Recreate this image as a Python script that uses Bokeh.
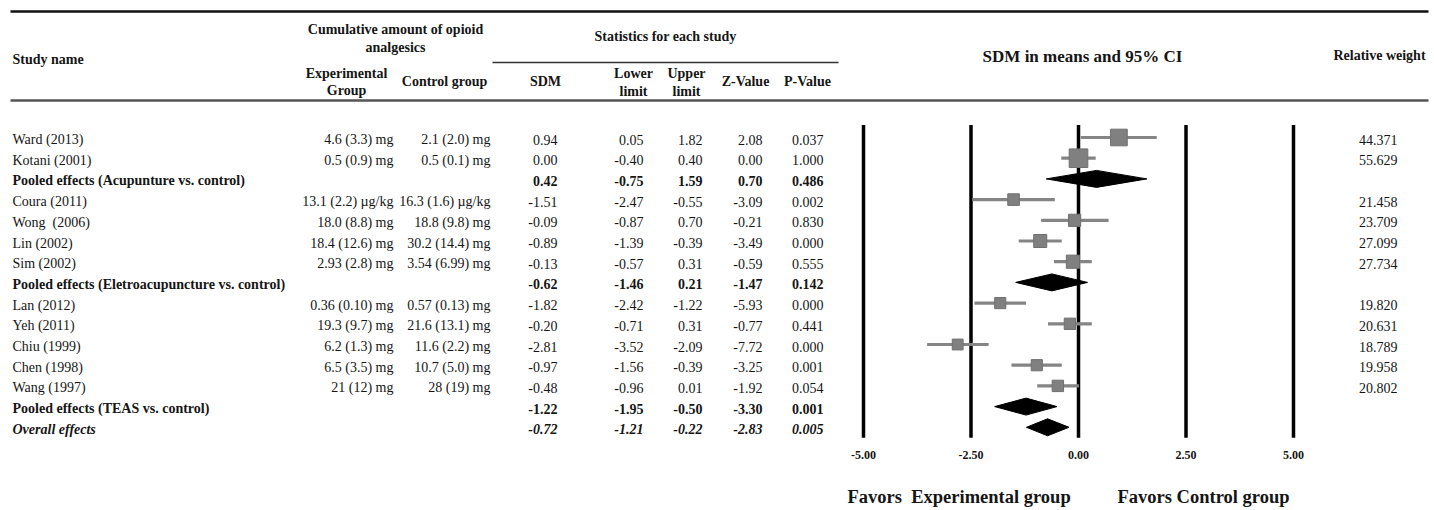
import math
from bokeh.plotting import figure
from bokeh.models import Range1d, ColumnDataSource
from bokeh.core.properties import value, field
from bokeh.embed import file_html
from bokeh.resources import INLINE

# ---------------- data ----------------
study_names = [
    "Ward (2013)", "Kotani (2001)", "Pooled effects (Acupunture vs. control)",
    "Coura (2011)", "Wong\u00a0 (2006)", "Lin (2002)", "Sim (2002)",
    "Pooled effects (Eletroacupuncture vs. control)",
    "Lan (2012)", "Yeh (2011)", "Chiu (1999)", "Chen (1998)", "Wang (1997)",
    "Pooled effects (TEAS vs. control)", "Overall effects",
]
row_kind = ["study", "study", "pooled",
            "study", "study", "study", "study", "pooled",
            "study", "study", "study", "study", "study", "pooled", "overall"]
exp_group = ["4.6 (3.3) mg", "0.5 (0.9) mg", "",
             "13.1 (2.2) \u00b5g/kg", "18.0 (8.8) mg", "18.4 (12.6) mg", "2.93 (2.8) mg", "",
             "0.36 (0.10) mg", "19.3 (9.7) mg", "6.2 (1.3) mg", "6.5 (3.5) mg", "21 (12) mg", "", ""]
ctrl_group = ["2.1 (2.0) mg", "0.5 (0.1) mg", "",
              "16.3 (1.6) \u00b5g/kg", "18.8 (9.8) mg", "30.2 (14.4) mg", "3.54 (6.99) mg", "",
              "0.57 (0.13) mg", "21.6 (13.1) mg", "11.6 (2.2) mg", "10.7 (5.0) mg", "28 (19) mg", "", ""]
sdm = [0.94, 0.00, 0.42, -1.51, -0.09, -0.89, -0.13, -0.62,
       -1.82, -0.20, -2.81, -0.97, -0.48, -1.22, -0.72]
lower = [0.05, -0.40, -0.75, -2.47, -0.87, -1.39, -0.57, -1.46,
         -2.42, -0.71, -3.52, -1.56, -0.96, -1.95, -1.21]
upper = [1.82, 0.40, 1.59, -0.55, 0.70, -0.39, 0.31, 0.21,
         -1.22, 0.31, -2.09, -0.39, 0.01, -0.50, -0.22]
z_value = [2.08, 0.00, 0.70, -3.09, -0.21, -3.49, -0.59, -1.47,
           -5.93, -0.77, -7.72, -3.25, -1.92, -3.30, -2.83]
p_value = [0.037, 1.000, 0.486, 0.002, 0.830, 0.000, 0.555, 0.142,
           0.000, 0.441, 0.000, 0.001, 0.054, 0.001, 0.005]
rel_weight = [44.371, 55.629, None, 21.458, 23.709, 27.099, 27.734, None,
              19.820, 20.631, 18.789, 19.958, 20.802, None, None]
tick_values = [-5.0, -2.5, 0.0, 2.5, 5.0]

# ---------------- layout ----------------
W, H = 1434, 510
FONT = value("Liberation Serif")
INK = "#151515"

p = figure(width=W, height=H, output_backend="svg", toolbar_location=None,
           x_range=Range1d(0, W), y_range=Range1d(H, 0), min_border=0,
           x_axis_type=None, y_axis_type=None)
p.grid.visible = False
p.outline_line_color = None
p.background_fill_color = "white"
p.border_fill_color = "white"

PX_PER_UNIT = 43.0
ZERO_X = 1078.0
p.extra_x_ranges = {"sdm": Range1d(-ZERO_X / PX_PER_UNIT, (W - ZERO_X) / PX_PER_UNIT)}
ROW0_Y = 137.0
ROW_H = 20.7
p.extra_y_ranges = {"row": Range1d((H - ROW0_Y) / ROW_H, -ROW0_Y / ROW_H)}

# ---------------- header ----------------
p.segment(x0=[10, 10, 492], y0=[11, 100, 62], x1=[1428, 1428, 838], y1=[11, 100, 62],
          line_color=["#111111", "#555555", "#333333"], line_width=[2.5, 2.5, 1.5])

def hdr(x, y, t, align="center", size="14px"):
    p.text(x=[x], y=[y], text=[t], text_align=align, text_baseline="middle",
           text_font=FONT, text_font_size=size, text_font_style="bold", text_color=INK)

hdr(12, 59, "Study name", align="left")
hdr(395, 29, "Cumulative amount of opioid")
hdr(395, 47, "analgesics")
hdr(346, 73, "Experimental")
hdr(346, 90, "Group")
hdr(444, 81, "Control group")
hdr(665, 36, "Statistics for each study")
hdr(545, 81, "SDM")
hdr(633, 73, "Lower")
hdr(633, 91, "limit")
hdr(686, 73, "Upper")
hdr(686, 91, "limit")
hdr(745, 81, "Z-Value")
hdr(807, 81, "P-Value")
hdr(1082, 56, "SDM in means and 95% CI", size="17px")
hdr(1379, 55, "Relative weight")

# ---------------- table body ----------------
rows = list(range(len(study_names)))
fstyle = ["normal" if k == "study" else ("bold" if k == "pooled" else "bold italic") for k in row_kind]
src = ColumnDataSource(dict(
    row=rows, name=study_names, exp=exp_group, ctrl=ctrl_group,
    sdm_s=[f"{v:.2f}" for v in sdm], lo_s=[f"{v:.2f}" for v in lower],
    up_s=[f"{v:.2f}" for v in upper], z_s=[f"{v:.2f}" for v in z_value],
    p_s=[f"{v:.3f}" for v in p_value],
    w_s=["" if w is None else f"{w:.3f}" for w in rel_weight],
    fstyle=fstyle,
))

for x, col, align in [(12, "name", "left"), (393, "exp", "right"), (490, "ctrl", "right"),
                      (557, "sdm_s", "right"), (643, "lo_s", "right"), (702, "up_s", "right"),
                      (762, "z_s", "right"), (823, "p_s", "right"), (1397, "w_s", "right")]:
    p.text(x=x, y="row", text=col, source=src, y_range_name="row",
           text_align=align, text_baseline="middle", y_offset=2,
           text_font=FONT, text_font_size="14px", text_font_style=field("fstyle"),
           text_color=INK)

# ---------------- forest plot ----------------
last_row = len(study_names) - 1
p.segment(x0=tick_values, y0=[-0.6] * len(tick_values), x1=tick_values,
          y1=[last_row + 0.5] * len(tick_values),
          x_range_name="sdm", y_range_name="row", line_color="black", line_width=3.5)

st = [i for i, k in enumerate(row_kind) if k == "study"]
p.segment(x0=[lower[i] for i in st], y0=st, x1=[upper[i] for i in st], y1=st,
          x_range_name="sdm", y_range_name="row", line_color="#858585", line_width=3.2)
p.scatter(x=[sdm[i] for i in st], y=st, size=[2.5 * math.sqrt(rel_weight[i]) for i in st],
          marker="square", fill_color="#808080", line_color="#707070", line_width=1,
          x_range_name="sdm", y_range_name="row")

pd_rows = [i for i, k in enumerate(row_kind) if k != "study"]
HALF = 0.41
p.patches(xs=[[lower[i], sdm[i], upper[i], sdm[i]] for i in pd_rows],
          ys=[[i, i - HALF, i, i + HALF] for i in pd_rows],
          x_range_name="sdm", y_range_name="row",
          fill_color="black", line_color="black", line_width=1)

p.text(x=tick_values, y=[454] * len(tick_values), text=[f"{v:.2f}" for v in tick_values],
       x_range_name="sdm", text_align="center", text_baseline="middle",
       text_font=FONT, text_font_size="12px", text_font_style="bold", text_color=INK)

p.text(x=[847, 1117], y=[496, 496],
       text=["Favors\u00a0 Experimental group", "Favors Control group"],
       text_align="left", text_baseline="middle",
       text_font=FONT, text_font_size="18.5px", text_font_style="bold", text_color=INK)

open("out.html", "w").write(file_html(p, INLINE))
